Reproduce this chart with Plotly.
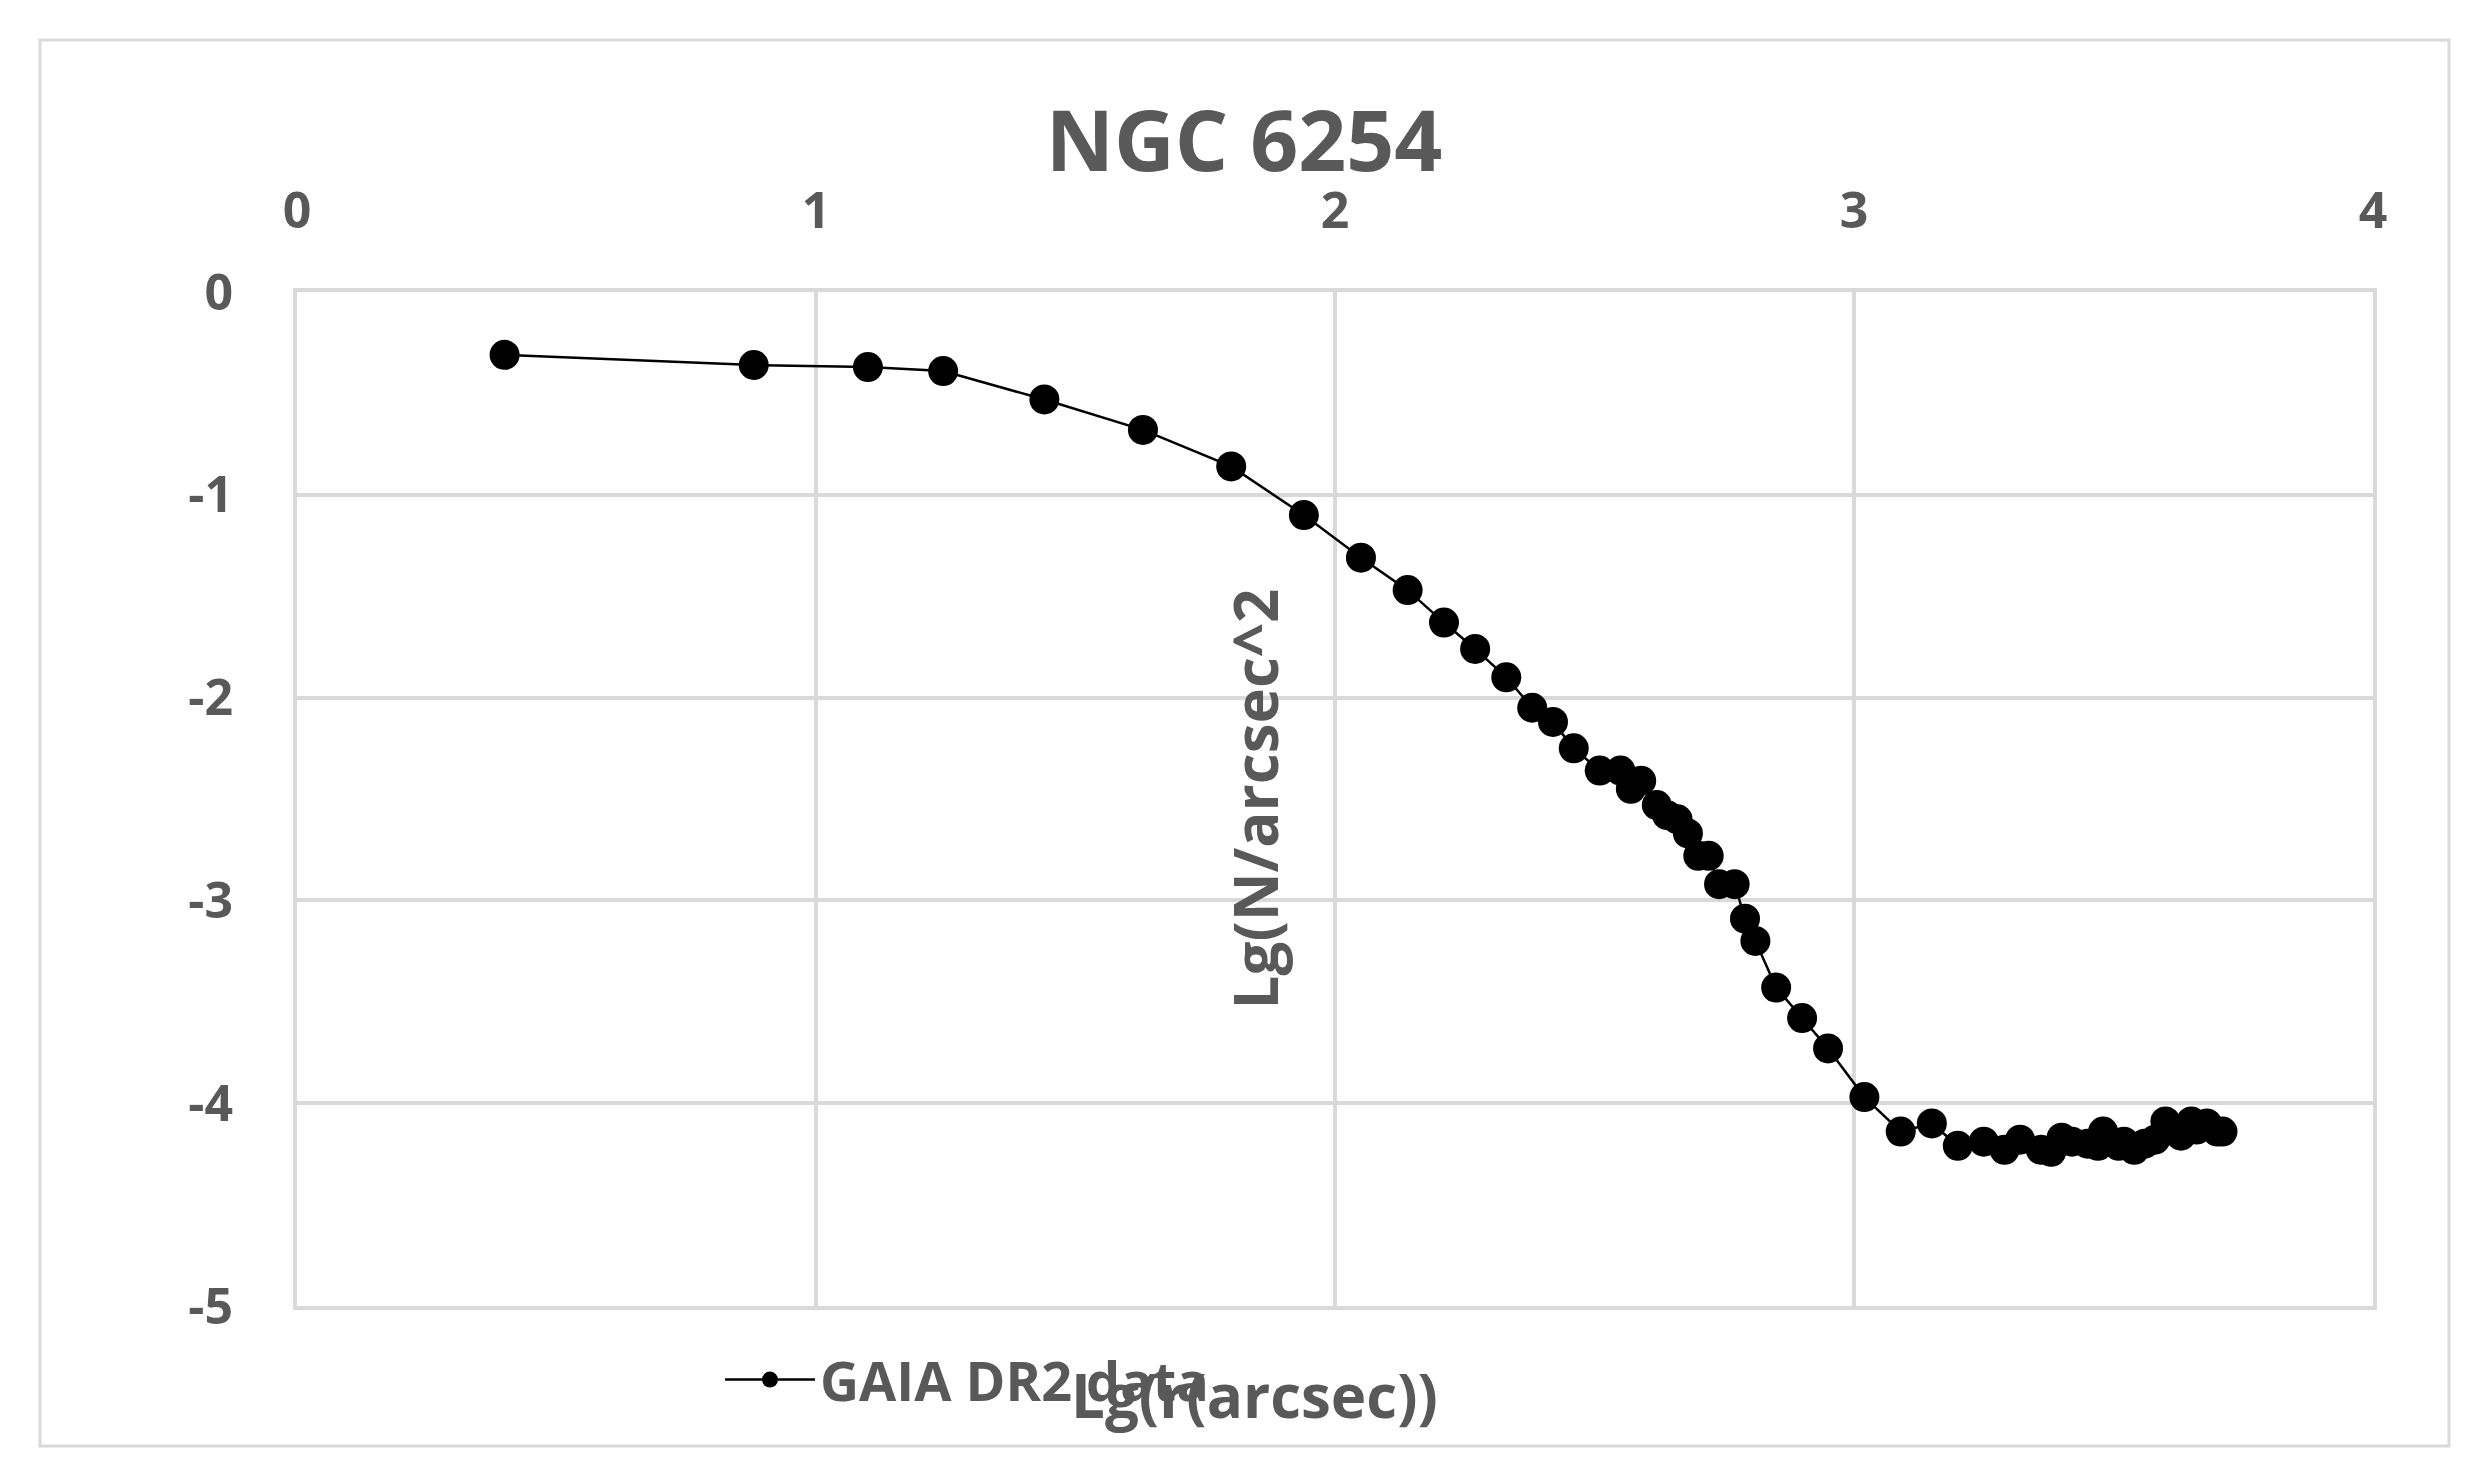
import plotly.graph_objects as go

lg_r = [0.40,0.88,1.10,1.245,1.44,1.63,1.80,1.94,2.05,2.14,2.21,2.27,2.33,2.38,2.42,2.46,2.51,2.55,2.57,2.59,2.62,2.64,2.66,2.68,2.70,2.72,2.74,2.77,2.79,2.81,2.85,2.90,2.95,3.02,3.09,3.15,3.20,3.25,3.29,3.32,3.36,3.38,3.40,3.42,3.45,3.47,3.48,3.51,3.52,3.54,3.56,3.58,3.60,3.62,3.63,3.65,3.66,3.68,3.70,3.71]
lg_n = [-0.31,-0.36,-0.37,-0.39,-0.53,-0.68,-0.86,-1.10,-1.31,-1.47,-1.63,-1.76,-1.90,-2.05,-2.12,-2.25,-2.36,-2.36,-2.45,-2.41,-2.53,-2.58,-2.60,-2.67,-2.78,-2.78,-2.92,-2.92,-3.09,-3.20,-3.43,-3.58,-3.73,-3.97,-4.14,-4.10,-4.21,-4.19,-4.23,-4.18,-4.23,-4.24,-4.17,-4.19,-4.20,-4.21,-4.14,-4.21,-4.19,-4.23,-4.20,-4.18,-4.09,-4.14,-4.16,-4.09,-4.13,-4.10,-4.14,-4.14]
x_ticks = [0, 1, 2, 3, 4]
y_ticks = [0, -1, -2, -3, -4, -5]

grey = "#595959"
gridc = "#d9d9d9"
font = "Open Sans"
fig = go.Figure(go.Scatter(x=lg_r, y=lg_n, mode="lines+markers", name="<b>GAIA DR2 data</b>",
    line=dict(color="black", width=2.5), marker=dict(color="black", size=30)))
fig.update_layout(
    width=2472, height=1469, paper_bgcolor="white", plot_bgcolor="white",
    margin=dict(l=289, r=2472-2365, t=284, b=1469-1298, autoexpand=False),
    title=dict(text="<b>NGC 6254</b>", x=0.5, xanchor="center", y=1-134/1469, yanchor="middle",
               font=dict(family=font, size=84, color=grey)),
    showlegend=True,
    legend=dict(xref="container", yref="container", x=1-1760/2472, xanchor="left", y=1-1372/1469, yanchor="middle",
                font=dict(family=font, size=54, color=grey), itemwidth=90, bgcolor="rgba(0,0,0,0)"),
    shapes=[dict(type="rect", xref="paper", yref="paper", x0=-257/2076, x1=1+76/2076, y0=-140/1014, y1=1+252/1014,
                 line=dict(color=gridc, width=3))],
    annotations=[dict(text="<b>Lg(r(arcsec))</b>", xref="paper", yref="paper", x=(1246-289)/2076, y=-0.045,
                      yanchor="top", showarrow=False, font=dict(family=font, size=60, color=grey))],
)
fig.update_xaxes(range=[0,4], side="top", tickvals=x_ticks, ticktext=[f"<b>{v}</b>" for v in x_ticks],
                 showgrid=True, gridcolor=gridc, gridwidth=4,
                 tickfont=dict(family=font, size=50, color=grey),
                 zeroline=False, showline=True, linecolor=gridc, linewidth=4, mirror=True, ticks="", ticklabelstandoff=40)
fig.update_yaxes(range=[-5,0], tickvals=y_ticks, ticktext=[f"<b>{v}</b>" for v in y_ticks],
                 showgrid=True, gridcolor=gridc, gridwidth=4,
                 tickfont=dict(family=font, size=50, color=grey),
                 zeroline=False, showline=True, linecolor=gridc, linewidth=4, mirror=True, ticks="", ticklabelstandoff=50,
                 title=dict(text="<b>Lg(N/arcsec^2</b>", font=dict(family=font, size=60, color=grey), standoff=40))
fig.write_html("out.html")
